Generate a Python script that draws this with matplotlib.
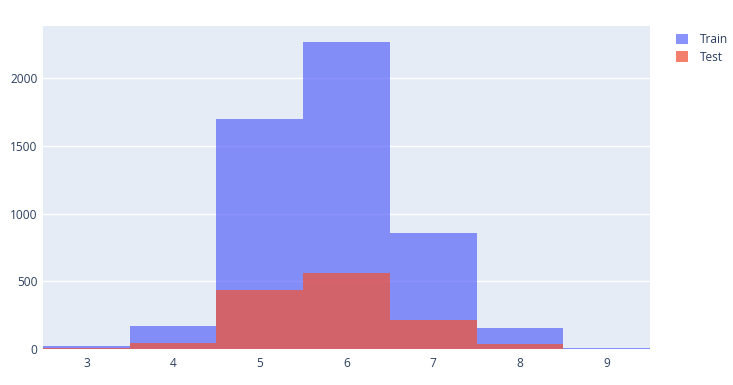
import numpy as np
import matplotlib.pyplot as plt
from matplotlib.patches import Patch

plt.rcParams['font.family'] = ['Open Sans', 'DejaVu Sans']

quality = [3, 4, 5, 6, 7, 8, 9]
train_counts = [24, 173, 1700, 2269, 856, 154, 4]
test_counts = [6, 43, 435, 560, 216, 39, 1]

train_color = '#636efa'
test_color = '#ef553b'
grid_bg = '#e5ecf6'
text_color = '#2a3f5f'

fig = plt.figure(figsize=(7.33, 3.85), dpi=100)
ax = fig.add_axes([0.0587, 0.0935, 0.8281, 0.839])
ax.set_facecolor(grid_bg)

ax.bar(quality, train_counts, width=1.0, color=train_color, alpha=0.75, linewidth=0, zorder=2)
ax.bar(quality, test_counts, width=1.0, color=test_color, alpha=0.75, linewidth=0, zorder=3)

ax.set_xlim(2.5, 9.5)
ax.set_ylim(0, 2384)
ax.set_xticks(quality)
ax.set_yticks([0, 500, 1000, 1500, 2000])
ax.grid(axis='y', color='white', linewidth=1, zorder=1)
ax.set_axisbelow(True)
for s in ax.spines.values():
    s.set_visible(False)
ax.tick_params(length=0, labelsize=8.6, colors=text_color, pad=6)
ax.tick_params(axis='y', pad=4)

handles = [Patch(facecolor=train_color, alpha=0.75, label='Train'),
           Patch(facecolor=test_color, alpha=0.75, label='Test')]
leg = fig.legend(handles=handles, loc='upper left', bbox_to_anchor=(0.908, 0.942),
                 frameon=False, fontsize=8.6, handlelength=1.0, handleheight=1.0,
                 handletextpad=1.0, labelspacing=0.4)
for t in leg.get_texts():
    t.set_color(text_color)

plt.savefig('out.png', dpi=100)
